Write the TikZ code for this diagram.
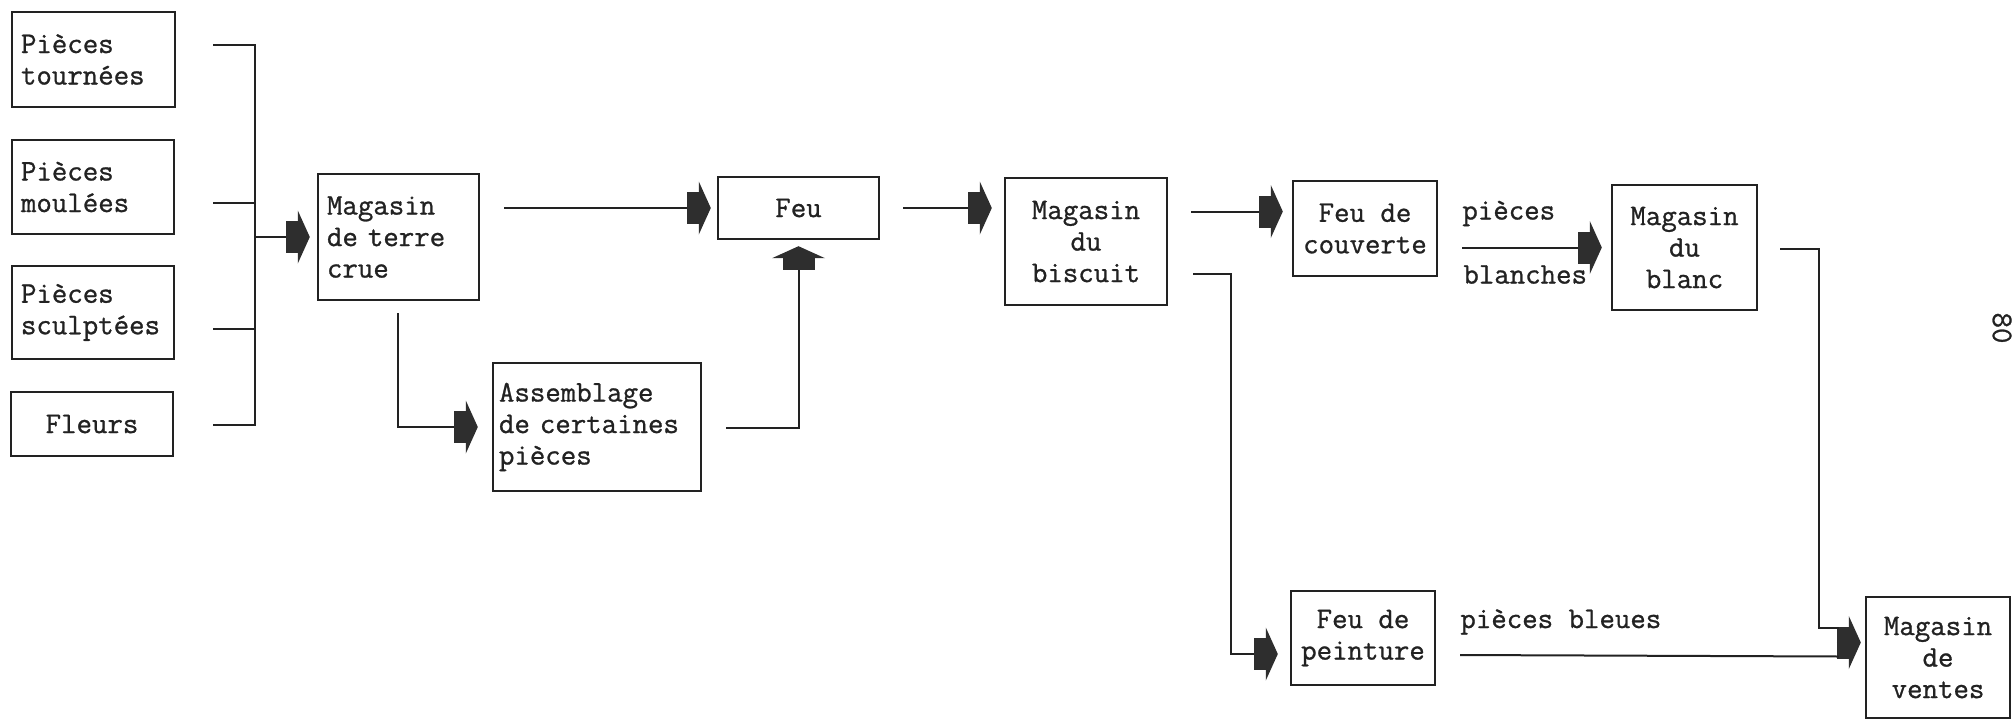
\documentclass[tikz,border=0pt]{standalone}
\usepackage{fontspec}
\setmonofont{Latin Modern Mono}[FakeBold=0.9]
\usetikzlibrary{arrows.meta,calc}
\definecolor{ink}{HTML}{222222}
\definecolor{arrowfill}{HTML}{2E2E2E}
\newcommand{\boxfont}{\ttfamily\fontsize{30}{31.5}\selectfont}
\tikzset{
  box/.style={draw=ink, line width=2.4pt, inner ysep=0pt, inner xsep=9pt,
              font=\boxfont, text=ink},
  lbox/.style={box, align=left},
  cbox/.style={box, align=center},
  lbl/.style={font=\boxfont, text=ink, inner sep=0pt},
  wire/.style={draw=ink, line width=2pt},
  fat/.style={wire, -{Rectangle[length=12pt,width=32pt,line width=0pt,color=arrowfill,fill=arrowfill,sep=0pt]
                       Triangle[length=12pt,width=53pt,line width=0pt,color=arrowfill,fill=arrowfill,sep=0pt]}},
}
\begin{document}
\begin{tikzpicture}[x=1pt,y=-1pt]
\useasboundingbox (0,0) rectangle (2013,723);
\fill[white] (0,0) rectangle (2013,723);

% raw pieces
\node[lbox, minimum width=163, minimum height=95, text width=145] (tourn) at (93.5,59.5) {Pièces\\tournées};
\node[lbox, minimum width=162, minimum height=94, text width=144] (moul) at (93,187) {Pièces\\moulées};
\node[lbox, minimum width=162, minimum height=93, text width=144] (sculp) at (93,312.5) {Pièces\\sculptées};
\node[cbox, minimum width=162, minimum height=64] (fleurs) at (92,424) {Fleurs};

% stores and kilns
\node[lbox, minimum width=161, minimum height=126, text width=143] (mtc) at (398.5,237) {Magasin\\de~terre\\crue};
\node[cbox, minimum width=161, minimum height=62] (feu) at (798.5,208) {Feu};
\node[lbox, inner xsep=6pt, minimum width=208, minimum height=128, text width=196] (assem) at (597,427) {Assemblage\\de~certaines\\pièces};
\node[cbox, minimum width=162, minimum height=127] (biscuit) at (1086,241.5) {Magasin\\du\\biscuit};
\node[cbox, minimum width=144, minimum height=95] (couv) at (1365,228.5) {Feu~de\\couverte};
\node[cbox, minimum width=145, minimum height=125] (blanc) at (1684.5,247.5) {Magasin\\du\\blanc};
\node[cbox, minimum width=144, minimum height=94] (peint) at (1363,638) {Feu~de\\peinture};
\node[cbox, minimum width=144, minimum height=121] (ventes) at (1938,657.5) {Magasin\\de\\ventes};

% gathering bus
\coordinate (s1) at ($(tourn.east)+(37,-14.5)$);
\coordinate (s2) at ($(moul.east)+(38,16)$);
\coordinate (s3) at ($(sculp.east)+(38,16.5)$);
\coordinate (s4) at ($(fleurs.east)+(39,1)$);
\coordinate (busx) at ($(tourn.east)+(79,0)$);
\draw[wire] (s1) -- (s1 -| busx) -- (s4 -| busx) -- (s4);
\draw[wire] (s2) -- (s2 -| busx);
\draw[wire] (s3) -- (s3 -| busx);
\draw[fat, shorten >=7pt] (busx |- mtc.west) -- (mtc.west);

% first firing
\coordinate (c1) at ($(mtc.east |- feu.west)+(24,0)$);
\draw[fat, shorten >=6pt] (c1) -- (feu.west);
\draw[fat, shorten >=14pt] ($(mtc.south)+(-1,12)$) |- (assem.west);
\draw[fat, shorten >=6pt] ($(assem.east)+(24,1)$) -| (feu.south);
\draw[fat, shorten >=12pt] ($(feu.east)+(23,0)$) -- (biscuit.west |- feu.east);

% glaze and paint
\coordinate (c2) at ($(biscuit.east)+(23,-30)$);
\draw[fat, shorten >=9pt] (c2) -- (c2 -| couv.west);
\coordinate (c3) at ($(couv.east |- blanc.west)+(24,0)$);
\draw[fat, shorten >=9pt] (c3) -- (blanc.west);
\node[lbl, anchor=west] (lp) at ($(c3)+(0,-34)$) {pièces};
\node[lbl, anchor=west] (lb) at ($(c3)+(1,27)$) {blanches};
\coordinate (c4) at ($(biscuit.east)+(25,32)$);
\draw[fat, shorten >=12pt] (c4) -- ++(38,0) |- ($(peint.west)+(0,16)$);

% sales store
\coordinate (vin) at ($(ventes.west)+(-28,-15)$);
\draw[fat, shorten >=4pt] (vin) -- (vin -| ventes.west);
\draw[wire] ($(blanc.east)+(22,1.5)$) -- ++(39,0) |- ($(vin)+(2,-15)$);
\draw[wire] ($(peint.east)+(24,17)$) -- ($(vin)+(2,14)$);
\node[lbl, anchor=west] (lbleu) at ($(peint.east)+(24,-16)$) {pièces bleues};

% folio
\node[lbl, rotate=-90] (folio) at (2002,328) {80};
\end{tikzpicture}
\end{document}
